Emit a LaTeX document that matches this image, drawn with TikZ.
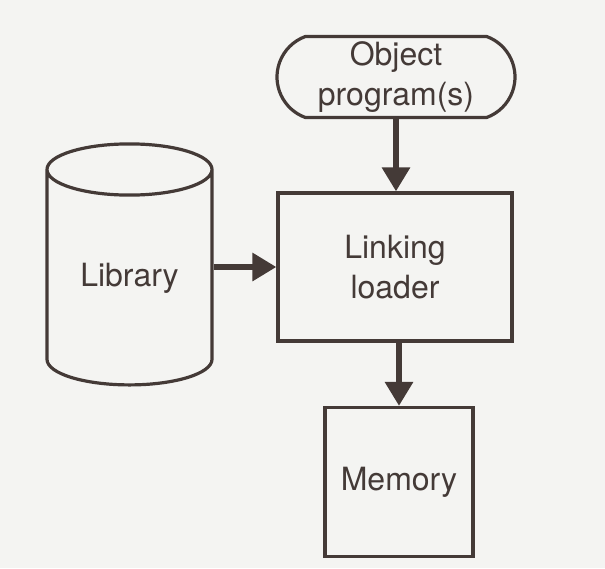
\documentclass[tikz,border=0pt]{standalone}
\usepackage{xcolor}
\usepackage{tikz}
\usepackage{fontspec}
\setmainfont{TeX Gyre Heros}
\usetikzlibrary{shapes.geometric,shapes.misc,arrows.meta}
\definecolor{ink}{HTML}{443a37}
\definecolor{paper}{HTML}{f4f4f2}

\begin{document}
\begin{tikzpicture}[x=0.5pt, y=-0.5pt,
        font=\fontsize{16}{20}\selectfont,
        box/.style={draw=ink, line width=1.6pt, text=ink, align=center, inner sep=0pt},
        flow/.style={draw=ink, line width=3pt, -{Triangle[length=12pt,width=13.5pt]}}]
	\fill [paper] (0, 0) rectangle (605, 568);
	\useasboundingbox (0, 0) rectangle (605, 568);

	\node [box, rounded rectangle, rounded rectangle arc length=140, minimum width=119pt, minimum height=40.5pt] (obj) at (396, 77) {Object\\program(s)};
	\node [box, rectangle, minimum width=117pt, minimum height=74pt] (loader) at (395, 267) {Linking\\loader};
	\node [box, rectangle, minimum width=74pt, minimum height=74.5pt] (mem) at (399, 482) {Memory};
	\node [box, cylinder, shape border rotate=90, aspect=0.52, minimum width=82.5pt, minimum height=120.5pt] (lib) at (129.5, 278) {Library};

	\draw [flow] (obj.south) -- (obj.south |- loader.north);
	\draw [flow] (lib.east |- loader.west) -- (loader.west);
	\draw [flow] (mem.north |- loader.south) -- (mem.north);
\end{tikzpicture}
\end{document}
